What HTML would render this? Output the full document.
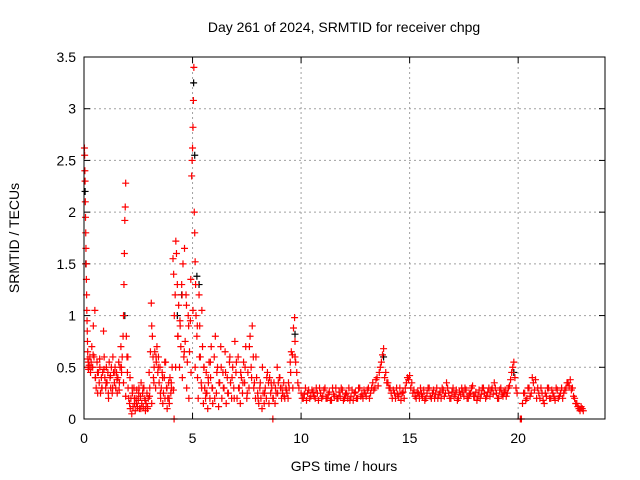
<!DOCTYPE html>
<html><head><meta charset="utf-8"><style>
body{margin:0;background:#fff;}
svg{display:block;font-family:"Liberation Sans",sans-serif;}
</style></head><body>
<svg id="chart" width="640" height="480" viewBox="0 0 640 480">
<rect width="640" height="480" fill="#fff"/>
<text x="344" y="32" font-size="14" text-anchor="middle">Day 261 of 2024, SRMTID for receiver chpg</text>
<text x="344" y="471" font-size="14" text-anchor="middle">GPS time / hours</text>
<text transform="translate(19,238) rotate(-90)" font-size="14" text-anchor="middle">SRMTID / TECUs</text>
<g id="grid"></g><g id="ticks"></g><g id="marks"></g>
<rect x="84" y="57" width="521" height="362" fill="none" stroke="#000" stroke-width="1"/>
</svg>
<script>
const xTicks=[0,5,10,15,20];
const yTicks=[0,0.5,1,1.5,2,2.5,3,3.5];
const yTickLabels=["0","0.5","1","1.5","2","2.5","3","3.5"];
const redT=[
0.02,0.03,0.04,0.05,0.06,0.07,0.08,0.09,0.10,0.11,
0.12,0.13,0.14,0.15,0.16,0.17,0.18,0.19,0.2,0.21,
0.24,0.27,0.3,0.33,0.36,0.4,0.43,0.46,0.5,0.53,
0.56,0.6,0.63,0.66,0.7,0.73,0.76,0.8,0.83,0.86,
0.9,0.93,0.96,1.0,1.03,1.06,1.1,1.13,1.16,1.2,
1.23,1.26,1.3,1.33,1.36,1.4,1.43,1.46,1.5,1.53,
1.56,1.6,1.63,1.66,1.7,1.73,1.76,1.8,1.82,1.84,
1.86,1.88,1.9,1.92,1.95,1.98,2.0,2.03,2.06,2.1,
2.13,2.16,2.2,2.23,2.26,2.3,2.33,2.36,2.4,2.43,
2.46,2.5,2.53,2.56,2.6,2.63,2.66,2.7,2.73,2.76,
2.8,2.83,2.86,2.9,2.93,2.96,3.0,3.03,3.06,3.1,
3.12,3.15,3.18,3.2,3.23,3.26,3.3,3.33,3.36,3.4,
3.43,3.46,3.5,3.53,3.56,3.6,3.63,3.66,3.7,3.73,
3.76,3.8,3.83,3.86,3.9,3.93,3.96,4.0,4.03,4.06,
4.1,4.13,4.16,4.2,4.23,4.26,4.3,4.33,4.36,4.4,
4.43,4.46,4.5,4.53,4.56,4.6,4.63,4.66,4.7,4.73,
4.76,4.8,4.83,4.86,4.9,4.93,4.96,4.98,5.0,5.02,
5.04,5.06,5.08,5.1,5.12,5.14,5.16,5.2,5.23,5.26,
5.3,5.33,5.36,5.4,5.43,5.46,5.5,5.53,5.56,5.6,
5.63,5.66,5.7,5.73,5.76,5.8,5.83,5.86,5.9,5.93,
6.0,6.05,6.1,6.15,6.2,6.25,6.3,6.35,6.4,6.45,
6.5,6.55,6.6,6.65,6.7,6.75,6.8,6.85,6.9,6.95,
7.0,7.05,7.1,7.15,7.2,7.25,7.3,7.35,7.4,7.45,
7.5,7.55,7.6,7.65,7.7,7.75,7.8,7.85,7.9,7.95,
8.0,8.05,8.1,8.15,8.2,8.25,8.3,8.35,8.4,8.45,
8.5,8.55,8.6,8.65,8.7,8.75,8.8,8.85,8.9,8.95,
9.0,9.05,9.1,9.15,9.2,9.25,9.3,9.35,9.4,9.45,
9.5,9.55,9.6,9.65,9.7,9.72,9.75,9.8,9.85,9.9,
4.15,8.7,20.1,20.15];
const redV=[
2.62,2.55,2.4,2.3,2.1,1.95,1.8,1.65,1.5,1.35,
1.2,1.05,0.95,0.85,0.75,0.65,0.58,0.5,0.55,0.48,
0.52,0.6,0.45,0.55,0.7,0.5,0.9,0.6,1.05,0.4,
0.3,0.55,0.25,0.45,0.35,0.5,0.25,0.4,0.3,0.45,
0.85,0.6,0.4,0.3,0.5,0.35,0.45,0.2,0.55,0.4,
0.3,0.5,0.25,0.6,0.45,0.35,0.5,0.3,0.45,0.25,
0.4,0.55,0.35,0.5,0.7,0.45,0.6,0.8,1.0,1.3,
1.6,1.92,2.05,2.28,0.8,0.6,0.45,0.3,0.2,0.15,
0.1,0.2,0.05,0.25,0.12,0.3,0.15,0.08,0.2,0.28,
0.12,0.18,0.3,0.1,0.22,0.35,0.15,0.25,0.12,0.3,
0.2,0.08,0.15,0.25,0.1,0.2,0.45,0.3,0.65,1.12,
0.9,0.8,0.6,0.4,0.5,0.65,0.3,0.55,0.7,0.45,
0.6,0.35,0.5,0.2,0.3,0.45,0.15,0.25,0.4,0.2,
0.55,0.3,0.1,0.2,0.35,0.15,0.4,0.25,0.3,0.5,
1.55,1.4,1.0,1.2,1.72,1.6,1.3,0.8,1.1,0.5,
0.9,0.7,1.3,0.4,1.5,0.6,1.65,0.75,1.2,0.3,
0.55,1.0,0.2,0.65,0.95,0.45,2.35,2.5,2.62,2.82,
3.08,3.4,2.0,1.8,1.52,1.3,1.0,0.8,0.4,0.2,
1.2,0.9,0.6,0.35,1.05,0.7,0.15,0.5,0.3,0.2,
0.45,0.25,0.1,0.35,0.55,0.2,0.4,0.7,0.3,0.15,
0.6,0.8,0.25,0.5,0.12,0.35,0.7,0.2,0.45,0.3,
0.65,0.15,0.4,0.25,0.55,0.35,0.2,0.5,0.3,0.75,
0.45,0.2,0.6,0.3,0.15,0.4,0.25,0.55,0.35,0.7,
0.2,0.45,0.3,0.8,0.5,0.9,0.6,0.35,0.2,0.4,
0.25,0.15,0.3,0.2,0.1,0.25,0.15,0.3,0.2,0.45,
0.35,0.4,0.25,0.3,0.2,0.35,0.15,0.25,0.5,0.35,
0.4,0.3,0.2,0.25,0.35,0.2,0.3,0.25,0.2,0.3,
0.55,0.65,0.62,0.88,0.98,0.75,0.55,0.45,0.35,0.3,
0,0,0,0];
const midStart=0.32, midStep=0.1;
const midV=[
0.5,0.62,0.4,0.45,0.58,0.3,0.48,0.35,0.25,0.42,
0.3,0.45,0.38,0.28,0.5,0.35,0.22,0.6,0.4,0.3,
0.2,0.15,0.25,0.1,0.3,0.18,0.12,0.22,0.15,0.35,
0.6,0.5,0.25,0.4,0.55,0.3,0.2,0.35,0.28,0.5,
0.8,0.95,1.2,0.65,1.1,0.9,1.35,1.05,0.5,0.9,
0.6,0.3,0.5,0.25,0.4,0.55,0.3,0.2,0.45,0.35,
0.5,0.3,0.45,0.25,0.6,0.4,0.2,0.55,0.3,0.45,
0.35,0.5,0.25,0.7,0.4,0.3,0.6,0.2,0.35,0.5,
0.25,0.4,0.15,0.35,0.2,0.3,0.25,0.4,0.3,0.22,
0.28,0.35,0.45,0.3,0.6];
const bandStart=10.0, bandStep=0.1;
const bandV=[
0.25,0.2,0.3,0.25,0.2,0.28,0.22,0.3,0.18,0.25,
0.22,0.3,0.2,0.26,0.18,0.24,0.3,0.2,0.22,0.28,
0.2,0.25,0.3,0.22,0.18,0.26,0.2,0.3,0.24,0.28,
0.22,0.3,0.25,0.35,0.3,0.4,0.45,0.55,0.68,0.45,
0.35,0.3,0.2,0.25,0.3,0.22,0.18,0.26,0.3,0.4,
0.42,0.35,0.28,0.2,0.25,0.3,0.22,0.18,0.25,0.3,
0.2,0.28,0.24,0.2,0.26,0.3,0.22,0.35,0.25,0.2,
0.3,0.24,0.18,0.26,0.3,0.22,0.28,0.2,0.25,0.32,
0.22,0.18,0.28,0.24,0.3,0.2,0.26,0.22,0.3,0.35,
0.25,0.2,0.3,0.22,0.28,0.25,0.32,0.45,0.55,0.3];
const band2V=[
0.2,0.24,0.18,0.28,0.22,0.26,0.2,0.25,0.3,0.2,
0.28,0.2,0.24,0.18,0.3,0.22,0.2,0.26,0.3,0.18,
0.24,0.2,0.18,0.28,0.25,0.2,0.3,0.22,0.2,0.25,
0.28,0.2,0.3,0.28,0.38,0.32,0.5,0.62,0.4,0.35,
0.3,0.25,0.28,0.2,0.24,0.3,0.25,0.2,0.35,0.38,
0.3,0.25,0.22,0.26,0.2,0.24,0.28,0.2,0.3,0.22,
0.25,0.2,0.3,0.24,0.2,0.28,0.25,0.3,0.2,0.26,
0.22,0.28,0.2,0.24,0.26,0.3,0.2,0.24,0.3,0.22,
0.26,0.22,0.2,0.3,0.25,0.22,0.3,0.28,0.24,0.3,
0.2,0.28,0.24,0.26,0.22,0.3,0.38,0.5,0.4,0.25];
const tailStart=20.2, tailStep=0.1;
const tailV=[0.15,0.25,0.2,0.3,0.25,0.35,0.38,0.3,0.2,0.25,
0.15,0.22,0.3,0.2,0.25,0.18,0.28,0.22,0.3,0.25,
0.3,0.35,0.38,0.3,0.2,0.15,0.1,0.12,0.08];
const tail2V=[0.25,0.18,0.3,0.22,0.4,0.28,0.2,0.25,0.3,0.18,
0.25,0.3,0.2,0.28,0.22,0.3,0.2,0.25,0.2,0.28,
0.35,0.32,0.28,0.22,0.15,0.12,0.08,0.1];
const blackT=[0.05,0.08,1.88,4.3,4.5,5.05,5.1,5.2,5.3,9.72,13.8,19.8];
const blackV=[2.2,1.5,1.0,1.0,1.2,3.25,2.55,1.38,1.3,0.82,0.6,0.45];
const X0=84,X1=605,Y0=419,Y1=57;
const xs=t=>X0+t/24*(X1-X0);
const ys=v=>Y0-v/3.5*(Y0-Y1);
const NS="http://www.w3.org/2000/svg";
function mk(tag,attrs,parent){const e=document.createElementNS(NS,tag);for(const k in attrs)e.setAttribute(k,attrs[k]);parent.appendChild(e);return e;}
const grid=document.getElementById('grid'),ticks=document.getElementById('ticks'),marks=document.getElementById('marks');
yTicks.forEach((v,i)=>{const y=ys(v);
 if(i>0&&i<yTicks.length-1){const g=mk('line',{x1:X0,x2:X1,y1:y,y2:y,stroke:'#a0a0a0','stroke-dasharray':'2,3'},grid);
 
 }
 mk('line',{x1:X0,x2:X0+6,y1:y,y2:y,stroke:'#000'},ticks);mk('line',{x1:X1,x2:X1-6,y1:y,y2:y,stroke:'#000'},ticks);
 const t=mk('text',{x:X0-8,y:y+5,'font-size':'14','text-anchor':'end'},ticks);t.textContent=yTickLabels[i];
 
 });
xTicks.forEach((v,i)=>{const x=xs(v);
 if(i>0){const g=mk('line',{x1:x,x2:x,y1:Y0,y2:Y1,stroke:'#a0a0a0','stroke-dasharray':'2,3'},grid);
 
 }
 mk('line',{x1:x,x2:x,y1:Y0,y2:Y0-6,stroke:'#000'},ticks);mk('line',{x1:x,x2:x,y1:Y1,y2:Y1+6,stroke:'#000'},ticks);
 const t=mk('text',{x:x,y:Y0+24,'font-size':'14','text-anchor':'middle'},ticks);t.textContent=String(v);
 
 });
function plus(T,V,color,name){let d='';T.forEach((t,i)=>{if(V[i]===undefined)return;const x=xs(t),y=ys(V[i]);d+=`M${x-3.5},${y}h7M${x},${y-3.5}v7`;});
 const p=mk('path',{d:d,stroke:color,'stroke-width':'1.2',fill:'none'},marks);
 
 }
const midT=midV.map((_,i)=>midStart+i*midStep);
const bandT=bandV.map((_,i)=>bandStart+i*bandStep);
const band2T=band2V.map((_,i)=>bandStart+0.05+i*bandStep);
const tailT=tailV.map((_,i)=>tailStart+i*tailStep);
const tail2T=tail2V.map((_,i)=>tailStart+0.05+i*tailStep);
plus(blackT,blackV,'#000','black-series-points');
plus(redT,redV,'#ff0000','red-series-points');
plus(midT,midV,'#ff0000','red-early-points');
plus(bandT,bandV,'#ff0000','red-band-points');
plus(band2T,band2V,'#ff0000','red-band-points-2');
plus(tailT,tailV,'#ff0000','red-tail-points');
plus(tail2T,tail2V,'#ff0000','red-tail-points-2');
</script>
</body></html>
